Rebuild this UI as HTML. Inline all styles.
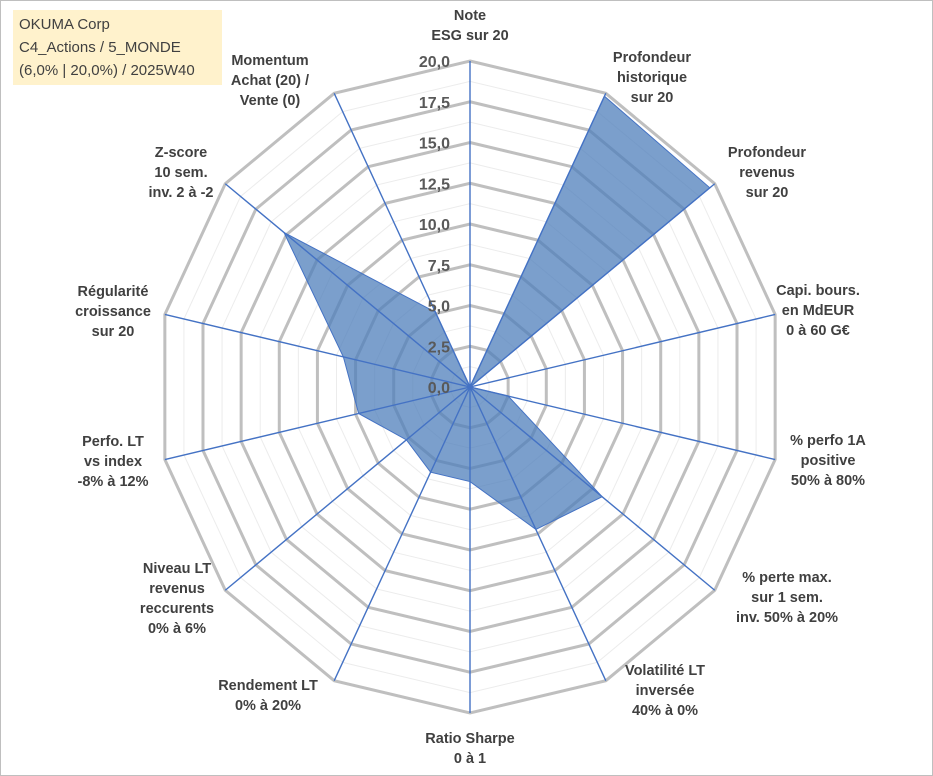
<!DOCTYPE html>
<html><head><meta charset="utf-8"><style>
html,body{margin:0;padding:0;background:#fff;}
#wrap{position:relative;width:933px;height:776px;overflow:hidden;}
#frame{position:absolute;left:0;top:0;width:931px;height:774px;border:1px solid #bfbfbf;}
#title{position:absolute;left:13px;top:10px;width:209px;height:75px;background:#fff2cc;font-family:"Liberation Sans",sans-serif;font-size:15px;color:#404040;line-height:23px;padding:3px 0 0 6px;box-sizing:border-box;}
svg{position:absolute;left:0;top:0;}
</style></head><body>
<div id="wrap">
<div id="frame"></div>
<svg id="chart" width="933" height="776"></svg>
<div id="title">OKUMA Corp<br>C4_Actions / 5_MONDE<br>(6,0% | 20,0%) / 2025W40</div>
</div>
<script>
const categories = [
 ["Note","ESG sur 20"],
 ["Profondeur","historique","sur 20"],
 ["Profondeur","revenus","sur 20"],
 ["Capi. bours.","en MdEUR","0 à 60 G€"],
 ["% perfo 1A","positive","50% à 80%"],
 ["% perte max.","sur 1 sem.","inv. 50% à 20%"],
 ["Volatilité LT","inversée","40% à 0%"],
 ["Ratio Sharpe","0 à 1"],
 ["Rendement LT","0% à 20%"],
 ["Niveau LT","revenus","reccurents","0% à 6%"],
 ["Perfo. LT","vs index","-8% à 12%"],
 ["Régularité","croissance","sur 20"],
 ["Z-score","10 sem.","inv. 2 à -2"],
 ["Momentum","Achat (20) /","Vente (0)"]
];
const values = [0, 19.8, 19.6, 0, 2.5, 10.8, 9.7, 5.8, 5.8, 5.2, 7.3, 8.3, 15.2, 5.1];
const tickLabels = ["0,0","2,5","5,0","7,5","10,0","12,5","15,0","17,5","20,0"];
const tickValues = [0,2.5,5,7.5,10,12.5,15,17.5,20];

const NS="http://www.w3.org/2000/svg";
const svg=document.getElementById('chart');
const cx=470, cy=387, RX=313, RY=326, vmax=20;
// label block centres (layout)
const labelCenters=[[470,25],[652,77],[767,172],[818,310],[828,460],[787,597],[665,690],[470,748],[268,695],[177,598],[113,461],[113,311],[181,172],[270,80]];
const n=categories.length;
function ang(i){return i*2*Math.PI/n;}
function pt(i,v){const f=v/vmax;return [cx+f*RX*Math.sin(ang(i)), cy-f*RY*Math.cos(ang(i))];}
function mk(tag,attrs){const e=document.createElementNS(NS,tag);for(const k in attrs)e.setAttribute(k,attrs[k]);svg.appendChild(e);return e;}

for(let k=0;k<tickValues.length-1;k++){
  const v=(tickValues[k]+tickValues[k+1])/2;
  const p=[];for(let i=0;i<n;i++)p.push(pt(i,v).join(','));
  const e=mk('polygon',{points:p.join(' '),fill:'none',stroke:'#ececec','stroke-width':1});
  
  
}
tickValues.forEach(v=>{
  if(v===0)return;
  const p=[];for(let i=0;i<n;i++)p.push(pt(i,v).join(','));
  const e=mk('polygon',{points:p.join(' '),fill:'none',stroke:'#bfbfbf','stroke-width':3});
  
  
});
{
  const p=values.map((v,i)=>pt(i,v).join(','));
  const e=mk('polygon',{points:p.join(' '),fill:'#4f7fbb','fill-opacity':0.75,stroke:'#4472c4','stroke-width':1});
  
  
}
for(let i=0;i<n;i++){
  const [x,y]=pt(i,vmax);
  const e=mk('line',{x1:cx,y1:cy,x2:x,y2:y,stroke:'#4472c4','stroke-width':1.4});
  
  
}
tickValues.forEach((v,k)=>{
  const y=cy-v/vmax*RY;
  const t=mk('text',{x:cx-20,y:y+6,'text-anchor':'end','font-family':'Liberation Sans, sans-serif','font-size':16,'font-weight':'bold',fill:'#595959'});
  t.textContent=tickLabels[k];
  
  
});
categories.forEach((lines,i)=>{
  const [x,y]=labelCenters[i];
  const h=lines.length*20;
  const y0=y-h/2+15;
  const t=mk('text',{x:x,y:y0,'text-anchor':'middle','font-family':'Liberation Sans, sans-serif','font-size':14.5,'font-weight':'bold',fill:'#404040'});
  
  
  lines.forEach((ln,j)=>{
    const ts=document.createElementNS(NS,'tspan');
    ts.setAttribute('x',x);ts.setAttribute('y',y0+j*20);
    ts.textContent=ln;t.appendChild(ts);
  });
});
</script>
</body></html>
